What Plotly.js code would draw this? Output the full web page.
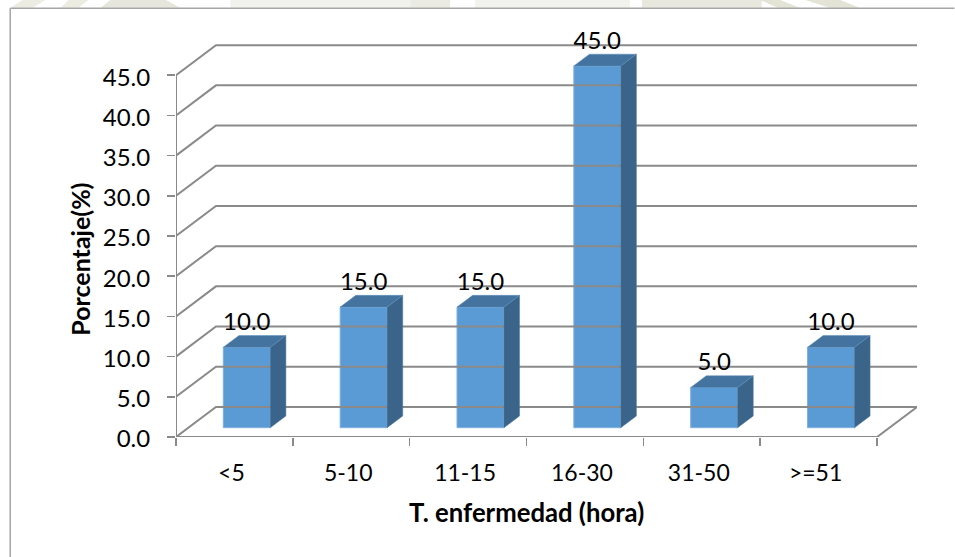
<!DOCTYPE html>
<html><head><meta charset="utf-8">
<script src="https://cdn.plot.ly/plotly-3.0.1.min.js"></script>
<style>html,body{margin:0;padding:0;background:#fff}#c{width:955px;height:557px}</style>
</head><body><div id="c"></div>
<script>
const categories = ['<5','5-10','11-15','16-30','31-50','>=51'];
const values = [10,15,15,45,5,10];
const valueLabels = ['10.0','15.0','15.0','45.0','5.0','10.0'];
const yTicks = [0,5,10,15,20,25,30,35,40,45];
const yTickLabels = ['0.0','5.0','10.0','15.0','20.0','25.0','30.0','35.0','40.0','45.0'];
const xEdges = [0,1,2,3,4,5,6];

// oblique projection of the pseudo-3D floor, in axis units
const DX = 0.342, DY = 3.74, HEAD = 4;
const depthFront = 0.31, depthBack = 0.70, barW = 0.402;
const W = 955, H = 557;
const L = 175.5, R = 917.5, B = 436.7, UNIT = (436.7-45.3)/(45+DY), T = 45.3 - HEAD*UNIT;
const fx = DX*depthFront, fy = DY*depthFront, bx = DX*depthBack, by = DY*depthBack;
const FONT = 'Lato, Carlito, "Open Sans", sans-serif';
const GRID = '#8a8a8a';
const px = p => (p-L)/(R-L), py = p => (B-p)/(B-T);

const traces = [];
// back wall grid and left wall slants
yTicks.forEach(v => traces.push({type:'scatter',mode:'lines',hoverinfo:'skip',showlegend:false,
  x:[0,DX,6+DX], y:[v,v+DY,v+DY], line:{color:GRID,width:2}}));
// floor and axis lines
traces.push({type:'scatter',mode:'lines',hoverinfo:'skip',showlegend:false,
  x:[0,6,6+DX], y:[0,0,DY], line:{color:GRID,width:2}});
traces.push({type:'scatter',mode:'lines',hoverinfo:'skip',showlegend:false,
  x:[0,0], y:[0,45], line:{color:GRID,width:2}});
// bars
const centers = categories.map((c,i)=>i+0.5+fx);
traces.push({type:'bar',x:centers,y:values,base:values.map(()=>fy),width:barW,showlegend:false,
  marker:{color:'#5b9bd5',line:{color:'#7fb0de',width:1}},hoverinfo:'skip'});
values.forEach((v,i)=>{
  const l=centers[i]-barW/2, r=centers[i]+barW/2, d=bx-fx, e=by-fy, t=v+fy;
  traces.push({type:'scatter',mode:'lines',fill:'toself',fillcolor:'#3a6489',hoverinfo:'skip',showlegend:false,
    x:[r,r+d,r+d,r,r], y:[fy,fy+e,t+e,t,fy], line:{color:'#4f7ba3',width:0.5}});
  traces.push({type:'scatter',mode:'lines',fill:'toself',fillcolor:'#44739f',hoverinfo:'skip',showlegend:false,
    x:[l,r,r+d,l+d,l], y:[t,t,t+e,t+e,t], line:{color:'#5b8dbb',width:0.5}});
});
// data labels
traces.push({type:'scatter',mode:'text',x:centers,y:values.map(v=>v+by+1.45),text:valueLabels,
  textposition:'middle center',textfont:{family:FONT,size:24,color:'#000'},hoverinfo:'skip',showlegend:false,cliponaxis:false});

const wm = (c,x0,x1,x2,x3)=>({type:'path',xref:'paper',yref:'paper',layer:'below',line:{width:0},fillcolor:c,
  path:`M${px(x0)},${py(0)} L${px(x1)},${py(0)} L${px(x2)},${py(8)} L${px(x3)},${py(8)} Z`});

const layout = {
  width:W,height:H,showlegend:false,paper_bgcolor:'#fff',plot_bgcolor:'rgba(0,0,0,0)',
  margin:{l:L,r:W-R,t:T,b:H-B,pad:0},
  font:{family:FONT,size:24,color:'#000'},
  xaxis:{range:[0,6+DX],tickmode:'array',tickvals:categories.map((c,i)=>i+0.5),ticktext:categories,
    ticks:'',showgrid:false,zeroline:false,showline:false,tickfont:{family:FONT,size:23},ticklabelstandoff:20,ticklabelshift:-3,
    minor:{tickmode:'array',tickvals:xEdges,ticks:'outside',ticklen:8,tickwidth:1.5,tickcolor:GRID,showgrid:false},
    automargin:false},
  yaxis:{range:[0,45+DY+HEAD],tickmode:'array',tickvals:yTicks,ticktext:yTickLabels,ticks:'outside',ticklen:8,tickwidth:1.5,
    tickcolor:GRID,showgrid:false,zeroline:false,showline:false,tickfont:{family:FONT,size:24},ticklabelstandoff:12,ticklabelshift:2,
    automargin:false},
  annotations:[
    {xref:'paper',yref:'paper',x:px(526),y:py(511.5),xanchor:'center',yanchor:'middle',text:'<b>T. enfermedad (hora)</b>',showarrow:false,font:{family:FONT,size:25.7,color:'#000'}},
    {xref:'paper',yref:'paper',x:px(79),y:py(259),xanchor:'center',yanchor:'middle',text:'<b>Porcentaje(%)</b>',textangle:-90,showarrow:false,font:{family:FONT,size:25,color:'#000'}}
  ],
  shapes:[
    wm('#ecece3',22,45,32,10),wm('#ecece3',68,88,78,60),wm('#e6e6dc',110,165,180,100),
    wm('#f2f2ed',230,410,410,230),wm('#ebebe4',410,450,450,410),wm('#f3f3ee',475,630,630,475),
    wm('#e8e8df',642,762,762,642),wm('#e3e4d6',760,780,800,778),wm('#e3e4d6',805,840,860,830),
    {type:'line',xref:'paper',yref:'paper',x0:px(9.5),x1:px(9.5),y0:py(8.5),y1:py(557),line:{color:'#a6a6a6',width:1.5}},
    {type:'line',xref:'paper',yref:'paper',x0:px(9.5),x1:px(955),y0:py(8.5),y1:py(8.5),line:{color:'#a6a6a6',width:1.5}}
  ]
};
Plotly.newPlot('c',traces,layout,{displayModeBar:false,staticPlot:true});
</script></body></html>
